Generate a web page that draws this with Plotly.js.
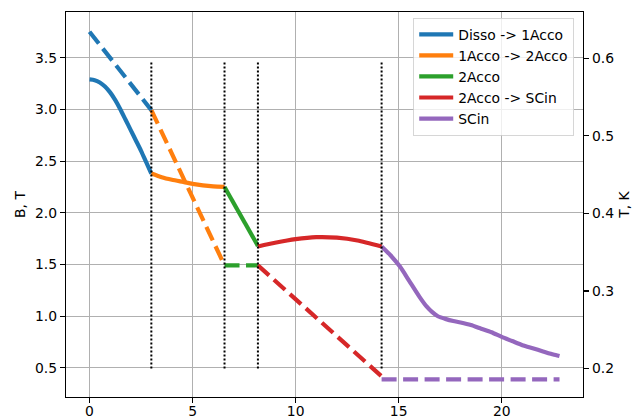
<!DOCTYPE html>
<html>
<head>
<meta charset="utf-8">
<script src="https://cdn.plot.ly/plotly-3.0.1.min.js"></script>
<style>html,body{margin:0;padding:0;background:#fff;}#chart{width:633px;height:419px;}</style>
</head>
<body>
<div id="chart"></div>
<script>
// ---- data ----
const seriesNames = ["Disso -> 1Acco", "1Acco -> 2Acco", "2Acco", "2Acco -> SCin", "SCin"];
const seriesColors = ["#1f77b4", "#ff7f0e", "#2ca02c", "#d62728", "#9467bd"];

// magnetic field B, T (solid, left axis)
const xDisso = [0, 0.25, 0.5, 0.75, 1.0, 1.25, 1.5, 1.75, 2.0, 2.25, 2.5, 2.75, 3.0];
const bDisso = [3.29, 3.283, 3.26, 3.222, 3.165, 3.09, 3.00, 2.90, 2.80, 2.70, 2.60, 2.49, 2.38];
const x1to2 = [3.0, 3.5, 4.0, 4.5, 5.0, 5.5, 6.0, 6.55];
const b1to2 = [2.38, 2.345, 2.32, 2.30, 2.28, 2.265, 2.255, 2.25];
const x2Acco = [6.55, 8.17];
const b2Acco = [2.25, 1.68];
const x2toSC = [8.17, 9, 10, 11, 12, 13, 14.17];
const b2toSC = [1.675, 1.71, 1.745, 1.765, 1.76, 1.733, 1.675];
const xSCin = [14.17, 14.6, 15.06, 15.5, 16, 16.35, 16.6, 16.9, 17.3, 17.65, 18, 18.5, 19, 19.5, 20, 20.5, 21, 21.5, 22, 22.5, 22.8];
const bSCin = [1.675, 1.59, 1.48, 1.345, 1.19, 1.095, 1.045, 1.0, 0.972, 0.954, 0.94, 0.915, 0.88, 0.845, 0.80, 0.76, 0.72, 0.69, 0.66, 0.63, 0.615];

// temperature T, K (dashed, right axis)
const xTDisso = [0, 3.0];
const tDisso = [0.634, 0.533];
const xT1to2 = [3.0, 6.55];
const t1to2 = [0.533, 0.333];
const xT2Acco = [6.55, 8.17];
const t2Acco = [0.333, 0.333];
const xT2toSC = [8.17, 14.17];
const t2toSC = [0.333, 0.190];
const xTSCin = [14.17, 22.8];
const tSCin = [0.186, 0.186];

// phase boundaries (dotted verticals)
const boundaries = [3.0, 6.55, 8.17, 14.17];
const boundaryT = [0.2, 0.595];

// ---- traces ----
const solidX = [xDisso, x1to2, x2Acco, x2toSC, xSCin];
const solidY = [bDisso, b1to2, b2Acco, b2toSC, bSCin];
const dashX = [xTDisso, xT1to2, xT2Acco, xT2toSC, xTSCin];
const dashY = [tDisso, t1to2, t2Acco, t2toSC, tSCin];

const traces = [];
for (let i = 0; i < seriesNames.length; i++) {
  traces.push({
    x: solidX[i], y: solidY[i], type: "scatter", mode: "lines",
    name: seriesNames[i], line: {color: seriesColors[i], width: 4.2, shape: "spline", smoothing: 0.6},
    xaxis: "x", yaxis: "y", showlegend: true
  });
}
for (let i = 0; i < seriesNames.length; i++) {
  traces.push({
    x: dashX[i], y: dashY[i], type: "scatter", mode: "lines",
    name: seriesNames[i], line: {color: seriesColors[i], width: 4.2, dash: "15px,6.5px"},
    xaxis: "x", yaxis: "y2", showlegend: false, hoverinfo: "skip"
  });
}
boundaries.forEach(function (bx) {
  traces.push({
    x: [bx, bx], y: boundaryT, type: "scatter", mode: "lines",
    line: {color: "#000000", width: 2, dash: "2px,2px"},
    xaxis: "x", yaxis: "y2", showlegend: false, hoverinfo: "skip"
  });
});

const fontFam = "DejaVu Sans, sans-serif";
const layout = {
  width: 633, height: 419,
  margin: {l: 66, r: 50, t: 12, b: 22, pad: 0},
  paper_bgcolor: "#ffffff", plot_bgcolor: "#ffffff",
  font: {family: fontFam, size: 13.9, color: "#000000"},
  showlegend: true,
  xaxis: {
    range: [-1.14, 23.94], tick0: 0, dtick: 5,
    showgrid: true, gridcolor: "#b0b0b0", gridwidth: 1.1,
    zeroline: false, showline: true, linecolor: "#000000", linewidth: 1.1, mirror: true,
    ticks: "outside", ticklen: 5, tickwidth: 1.1, tickcolor: "#000000",
    ticklabelstandoff: -4,
    tickfont: {family: fontFam, size: 13.9, color: "#000000"}
  },
  yaxis: {
    range: [0.219, 3.942], tick0: 0, dtick: 0.5, tickformat: ".1f",
    showgrid: true, gridcolor: "#b0b0b0", gridwidth: 1.1,
    zeroline: false, showline: true, linecolor: "#000000", linewidth: 1.1,
    ticks: "outside", ticklen: 5, tickwidth: 1.1, tickcolor: "#000000",
    tickfont: {family: fontFam, size: 13.9, color: "#000000"},
    title: {text: "B, T", font: {family: fontFam, size: 13.9, color: "#000000"}, standoff: 6}
  },
  yaxis2: {
    overlaying: "y", side: "right", anchor: "x",
    range: [0.1634, 0.6594], tick0: 0, dtick: 0.1, tickformat: ".1f",
    showgrid: false, zeroline: false, showline: true, linecolor: "#000000", linewidth: 1.1,
    ticks: "outside", ticklen: 5, tickwidth: 1.1, tickcolor: "#000000",
    tickfont: {family: fontFam, size: 13.9, color: "#000000"},
    title: {text: "T, K", font: {family: fontFam, size: 13.9, color: "#000000"}, standoff: 6}
  },
  legend: {
    x: 0.983, xanchor: "right", y: 0.985, yanchor: "top",
    bgcolor: "rgba(255,255,255,0.8)", bordercolor: "rgba(204,204,204,0.8)", borderwidth: 1,
    font: {family: fontFam, size: 13.9, color: "#000000"},
    itemwidth: 34,
    traceorder: "normal"
  }
};

Plotly.newPlot("chart", traces, layout, {displayModeBar: false, staticPlot: true});
</script>
</body>
</html>
